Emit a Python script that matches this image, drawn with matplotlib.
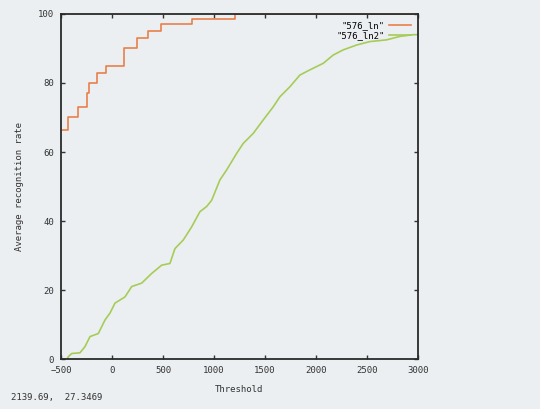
import matplotlib
matplotlib.use('Agg')
import matplotlib.pyplot as plt

# recognition rate vs threshold, two runs
thr_ln = [-500, -431, -335, -250, -226, -147, -59, 117, 245, 353, 480, 784, 1205, 3000]
rate_ln = [66.5, 70, 73, 77, 80, 83, 85, 90, 93, 95, 97, 98.5, 100, 100]

thr_ln2 = [-440, -428, -395, -314, -265, -216, -134, -69, -20, 29, 127, 193, 291, 389,
           487, 568, 617, 699, 781, 862, 928, 977, 1058, 1124, 1222, 1287, 1385, 1483,
           1581, 1646, 1744, 1842, 1940, 2071, 2169, 2267, 2398, 2528, 2692, 2822, 2953, 3000]
rate_ln2 = [0, 0.7, 1.6, 1.8, 3.6, 6.5, 7.4, 11.3, 13.3, 16.2, 18, 21, 22, 24.8,
            27.2, 27.7, 32, 34.5, 38.3, 42.7, 44.2, 46, 51.9, 54.8, 59.6, 62.5, 65.4, 69.3,
            73.1, 76, 78.9, 82.3, 83.8, 85.7, 88.1, 89.6, 91, 92, 92.5, 93.5, 94, 94]

xticks = [-500, 0, 500, 1000, 1500, 2000, 2500, 3000]
yticks = [0, 20, 40, 60, 80, 100]

bg = '#eceff1'
fnt = 'DejaVu Sans Mono'

fig = plt.figure(figsize=(5.4, 4.09), dpi=100, facecolor=bg)
ax = fig.add_axes([0.113, 0.1222, 0.661, 0.8436], facecolor=bg)

ax.plot(thr_ln, rate_ln, drawstyle='steps-post', color='#e8804a', lw=1.2, label='"576_ln"')
ax.plot(thr_ln2, rate_ln2, color='#a6cc58', lw=1.2, label='"576_ln2"')

ax.set_xlim(-500, 3000)
ax.set_ylim(0, 100)
ax.set_xticks(xticks)
ax.set_yticks(yticks)
ax.tick_params(direction='in', length=3, width=1, top=True, right=True,
               labelsize=6.5, colors='#333333', pad=5)
for lab in ax.get_xticklabels() + ax.get_yticklabels():
    lab.set_family(fnt)
for s in ax.spines.values():
    s.set_color('#2a2a2a')
    s.set_linewidth(1.3)

ax.set_xlabel('Threshold', family=fnt, fontsize=6.5, color='#333333', labelpad=7)
ax.set_ylabel('Average recognition rate', family=fnt, fontsize=6.5, color='#333333', labelpad=10)

leg = ax.legend(loc='upper right', frameon=False, prop={'family': fnt, 'size': 6.5},
                markerfirst=False, handlelength=2.4, handletextpad=0.5,
                borderaxespad=0.4, labelspacing=0.1)

fig.text(0.02, 0.022, '2139.69,  27.3469', family=fnt, fontsize=6.5, color='#333333')

fig.savefig('out.png', dpi=100, facecolor=bg)
